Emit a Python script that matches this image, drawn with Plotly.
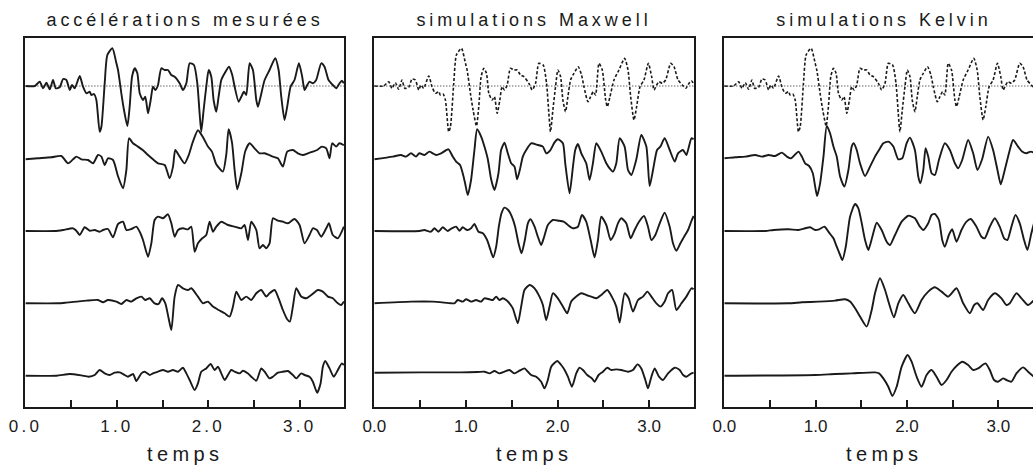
import plotly.graph_objects as go

# ---------------- data: (time, amplitude) pairs ----------------
mes1 = [(0.0,0),(0.102,0),(0.157,4.3),(0.193,-2.3),(0.230,3.3),(0.266,-3.3),(0.302,6),(0.332,-2.3),(0.375,-1.3),(0.412,7),(0.448,6),(0.485,-4),(0.510,1),(0.539,-2.3),(0.594,10),(0.630,-0.7),(0.667,-7.3),(0.703,-5.7),(0.721,-9),(0.750,-8),(0.776,-14),(0.812,-45.7),(0.831,-40.7),(0.867,2.7),(0.896,31),(0.951,37.7),(0.995,22.7),(1.013,16),(1.049,-7.3),(1.078,-24),(1.115,-40),(1.140,-20.7),(1.166,9.3),(1.195,17.7),(1.224,12.7),(1.250,-7.3),(1.286,-14),(1.311,-10.7),(1.341,-27.3),(1.370,-14),(1.395,-0.7),(1.421,-4),(1.450,1),(1.486,17.7),(1.523,16),(1.559,16),(1.596,11),(1.632,9.3),(1.687,2.7),(1.723,-4),(1.760,2.7),(1.796,22.7),(1.843,21),(1.880,2.7),(1.905,-27.3),(1.923,-45.7),(1.949,-24),(1.978,-0.7),(2.004,16),(2.033,9.3),(2.058,-14),(2.087,-25.7),(2.113,-10.7),(2.142,6),(2.179,12.7),(2.226,19.3),(2.262,11),(2.288,-0.7),(2.332,-15.7),(2.361,-10.7),(2.390,-5.7),(2.415,-9),(2.452,22.7),(2.488,16),(2.525,-14),(2.543,-20.7),(2.572,-10.7),(2.616,6),(2.670,16),(2.732,27.7),(2.769,16),(2.798,-10.7),(2.834,-34),(2.863,-20.7),(2.900,-0.7),(2.943,6),(2.991,22.7),(3.027,9.3),(3.053,-4),(3.082,1),(3.107,4.3),(3.144,2.7),(3.180,6),(3.235,22.7),(3.271,19.3),(3.315,6),(3.362,1),(3.399,-2.3),(3.435,2.7),(3.461,5.3),(3.483,2.7)]

mes2 = [(0.0,0),(0.138,1),(0.284,2),(0.393,3.3),(0.466,-4),(0.521,0),(0.557,2.7),(0.612,0),(0.685,-0.7),(0.740,-4),(0.794,4.3),(0.831,2.7),(0.867,-5.7),(0.903,1),(0.958,-0.7),(1.013,-17),(1.067,-29),(1.104,-10.7),(1.133,21),(1.177,16),(1.231,12.7),(1.286,9),(1.341,4.3),(1.395,0),(1.450,-4),(1.523,-5.7),(1.577,-19),(1.614,-7.3),(1.639,9.3),(1.687,2.7),(1.741,-4),(1.785,4),(1.832,17.7),(1.887,29),(1.942,22),(1.996,12.7),(2.040,7.7),(2.087,-5),(2.160,-12.3),(2.197,5),(2.222,30),(2.259,17),(2.288,-10.7),(2.317,-30),(2.361,-14),(2.404,8),(2.452,16),(2.506,11),(2.561,6),(2.616,6),(2.707,2.7),(2.761,1),(2.816,-7.3),(2.863,7.7),(2.925,9.3),(2.980,6),(3.035,4.3),(3.089,6),(3.144,7.7),(3.191,9.3),(3.242,12.7),(3.290,11),(3.326,1),(3.355,16),(3.399,12.7),(3.435,16),(3.483,14)]

mes3 = [(0.0,0),(0.321,0),(0.412,1),(0.521,2.7),(0.557,0.3),(0.594,-4),(0.648,3.7),(0.703,0.3),(0.758,1),(0.812,-0.7),(0.849,1),(0.903,2),(0.958,-6.3),(1.013,7),(1.067,9.3),(1.104,1),(1.158,2),(1.213,4.3),(1.250,-0.7),(1.286,-9),(1.341,-25.7),(1.377,-12.3),(1.413,11),(1.450,14.3),(1.505,12.7),(1.559,16.7),(1.596,7.7),(1.632,-5.7),(1.669,1),(1.723,2.7),(1.778,1.7),(1.814,4.3),(1.851,-20.7),(1.887,-12.3),(1.934,-7.3),(1.978,-4),(2.014,9.3),(2.051,-0.7),(2.087,4.3),(2.142,9.3),(2.215,6),(2.288,4.3),(2.361,2.7),(2.397,6),(2.434,-9),(2.470,9.3),(2.525,1),(2.561,-17.3),(2.598,-14),(2.634,-17.3),(2.670,-12.3),(2.707,12.7),(2.761,10.3),(2.816,9.3),(2.871,7.7),(2.943,12),(2.998,6),(3.053,-12.3),(3.107,-4),(3.144,2.7),(3.188,1),(3.235,-5.7),(3.290,2.7),(3.319,7.7),(3.362,-4),(3.417,-7.3),(3.483,4.3)]

mes4 = [(0.0,0),(0.357,0),(0.448,0.7),(0.557,1.7),(0.667,2.7),(0.794,3.3),(0.849,1),(0.903,3.3),(0.995,1.7),(1.049,-0.7),(1.104,3.3),(1.158,1.7),(1.213,5),(1.268,6.7),(1.311,3.3),(1.359,5),(1.413,0),(1.457,-0.7),(1.494,5),(1.530,0),(1.566,-15),(1.596,-26.7),(1.632,6.7),(1.669,18.3),(1.723,15),(1.778,13.3),(1.814,15),(1.887,6.7),(1.942,0),(1.996,1.7),(2.051,-3.3),(2.113,-6.7),(2.179,-10),(2.233,-13.3),(2.270,-3.3),(2.306,11.7),(2.361,3.3),(2.415,6.7),(2.470,3.3),(2.525,10),(2.579,13.3),(2.634,6.7),(2.670,10),(2.725,13.3),(2.769,5),(2.816,-6.7),(2.863,-16),(2.892,-18.3),(2.925,-3.3),(2.962,15),(3.016,6.7),(3.071,5),(3.126,8.3),(3.199,13.3),(3.253,11.7),(3.308,6.7),(3.362,5),(3.417,0),(3.454,-1.7),(3.483,1.7)]

mes5 = [(0.0,0),(0.339,0),(0.485,1.7),(0.612,0.3),(0.692,-1),(0.758,0.7),(0.812,5.7),(0.867,2.3),(0.922,0.7),(0.976,3),(1.031,3.3),(1.086,0.7),(1.122,-1),(1.177,1.7),(1.213,-5.3),(1.268,2.3),(1.304,4),(1.359,0.7),(1.395,2.3),(1.450,4),(1.505,5.7),(1.559,4),(1.614,5.7),(1.669,4),(1.723,8),(1.760,2.3),(1.796,-4.3),(1.851,-14.3),(1.887,-7.7),(1.923,4),(1.978,7.3),(2.026,11.7),(2.069,5.7),(2.106,9),(2.142,2.3),(2.179,-4.3),(2.215,0.7),(2.251,5.7),(2.288,4),(2.342,2.3),(2.379,5),(2.434,2.3),(2.470,-1),(2.525,-5),(2.579,7.3),(2.616,4),(2.670,-2.7),(2.707,-1),(2.761,3),(2.816,4),(2.871,4.7),(2.925,0.7),(2.962,-2.7),(3.016,2.3),(3.053,0.7),(3.107,-1),(3.144,-6),(3.191,-17),(3.228,-7.7),(3.253,9),(3.279,14.7),(3.326,7.3),(3.373,-1),(3.417,5.7),(3.461,12.3),(3.483,10.7)]

max2 = [(0.0,0),(0.200,2.7),(0.291,4.3),(0.346,2.7),(0.401,6),(0.455,2.7),(0.492,6),(0.546,4.3),(0.601,7.7),(0.638,6),(0.674,4.3),(0.729,6),(0.809,10),(0.856,2.7),(0.893,-2.3),(0.936,-5.7),(0.965,-14),(0.991,-24),(1.020,-35.7),(1.056,-20.7),(1.093,9.3),(1.122,30),(1.166,22.7),(1.202,12.7),(1.239,0),(1.275,-20),(1.311,-30.7),(1.355,-14),(1.384,9.3),(1.421,16.7),(1.457,6),(1.494,-4),(1.530,-7.3),(1.559,-20),(1.588,-10.7),(1.621,2.7),(1.658,9.3),(1.712,16),(1.785,14.3),(1.840,12.7),(1.876,6),(1.920,9),(1.967,17),(2.004,20),(2.058,16),(2.084,-4),(2.131,-34),(2.168,-7.3),(2.193,9.3),(2.222,15.3),(2.259,6),(2.313,-4),(2.350,-20.7),(2.386,-4),(2.423,16),(2.477,7.7),(2.532,-4),(2.568,-9),(2.605,-12.3),(2.641,-4),(2.678,21),(2.732,12.7),(2.769,-10.7),(2.805,-15.7),(2.860,0),(2.914,24.3),(2.969,12.7),(3.005,-26.7),(3.042,-10.7),(3.086,9.3),(3.122,12.7),(3.169,21),(3.224,9.3),(3.279,-2.3),(3.315,6),(3.370,9.3),(3.406,4.3),(3.461,21),(3.485,20)]

max3 = [(0.0,0),(0.492,0),(0.546,1),(0.619,-0.7),(0.656,2.7),(0.699,-0.7),(0.747,3.7),(0.801,0),(0.845,2.7),(0.893,4.3),(0.929,0.3),(0.965,3.7),(1.013,1),(1.056,2.7),(1.093,7),(1.137,-0.7),(1.184,-2.3),(1.231,-9),(1.268,-19),(1.297,-26.3),(1.330,-15.7),(1.359,4.3),(1.388,17.7),(1.421,23.3),(1.461,21),(1.501,14.3),(1.537,4.3),(1.574,-12.3),(1.607,-22.3),(1.643,-9),(1.676,7.7),(1.705,11.7),(1.749,4.3),(1.785,-5.7),(1.821,-14),(1.854,-5.7),(1.894,6),(1.949,11),(2.011,10.3),(2.066,9.3),(2.113,6),(2.168,2.7),(2.222,4.3),(2.266,16),(2.313,9.3),(2.361,-9),(2.404,-26.3),(2.441,-9),(2.477,14.3),(2.532,6),(2.579,-9),(2.623,-2.3),(2.659,7.7),(2.696,12.7),(2.750,7.7),(2.798,-7.3),(2.841,1),(2.889,9.3),(2.944,15),(2.987,4.3),(3.024,-9),(3.067,-4),(3.115,7.7),(3.169,18.3),(3.224,4.3),(3.260,-12.3),(3.297,-19.7),(3.341,-12.3),(3.381,-5.7),(3.424,1),(3.461,10),(3.485,15)]

max4 = [(0.0,0),(0.401,1.7),(0.638,1.7),(0.838,0),(0.874,0),(0.911,3.3),(0.965,1.7),(1.002,4),(1.056,1.7),(1.111,3.3),(1.166,1.7),(1.202,5),(1.257,4),(1.293,3.3),(1.330,6.7),(1.366,3.3),(1.403,5),(1.439,3.3),(1.475,0),(1.512,-5),(1.566,-20),(1.603,-3.3),(1.639,13.3),(1.694,18.3),(1.749,15),(1.803,6.7),(1.840,-1.7),(1.876,-16.7),(1.913,-3.3),(1.949,10),(2.004,5),(2.058,-3.3),(2.106,-10),(2.149,1.7),(2.204,6.7),(2.259,10),(2.313,8.3),(2.368,6.7),(2.423,5),(2.477,8.3),(2.543,13.3),(2.592,6.7),(2.641,-3.3),(2.678,-19.3),(2.732,10),(2.776,5),(2.823,-8.3),(2.878,3.3),(2.933,6.7),(2.980,11.7),(3.024,6.7),(3.078,0),(3.126,-3.3),(3.169,1.7),(3.206,10),(3.250,13.3),(3.297,-6.7),(3.352,0),(3.406,6.7),(3.461,15),(3.485,14)]

max5 = [(0.0,3),(0.510,3.3),(0.947,3.3),(1.129,3.7),(1.202,4),(1.257,2.3),(1.311,4.7),(1.366,2.3),(1.421,4),(1.475,5.7),(1.530,2.3),(1.585,5),(1.639,7.3),(1.676,4),(1.712,0.7),(1.767,-1),(1.821,-6),(1.858,-12.7),(1.894,-4.3),(1.931,9),(1.996,14.7),(2.040,10.7),(2.077,5.7),(2.113,-1),(2.157,-11),(2.204,2.3),(2.240,8),(2.277,5.7),(2.324,0.7),(2.375,-2.7),(2.404,-6),(2.448,0.7),(2.495,4),(2.543,8),(2.587,5.7),(2.641,6.3),(2.696,5.7),(2.769,4),(2.823,5.7),(2.871,11.3),(2.914,7.3),(2.958,-4.3),(2.987,-12.7),(3.024,-1),(3.060,7.3),(3.107,-1),(3.151,-4.3),(3.206,2.3),(3.279,8),(3.333,5.7),(3.370,0.7),(3.406,-1),(3.461,2.3),(3.485,3)]

kel2 = [(0.0,1),(0.120,2),(0.230,2.7),(0.339,4.3),(0.412,2.7),(0.485,4.3),(0.557,3.3),(0.630,6.7),(0.685,2.7),(0.732,1),(0.812,7.7),(0.849,2.7),(0.885,-4),(0.929,-6.7),(0.969,-14),(0.995,-27.3),(1.016,-36.7),(1.049,-24),(1.086,2.7),(1.122,33.3),(1.158,26),(1.195,12.7),(1.231,2.7),(1.268,-17.3),(1.315,-27.3),(1.359,-10.7),(1.395,12.7),(1.417,16),(1.450,9.3),(1.486,-4),(1.541,-16.7),(1.596,-7.3),(1.650,2.7),(1.694,9.3),(1.741,16),(1.796,17.7),(1.851,12.7),(1.905,0),(1.949,1),(1.996,16),(2.033,21.7),(2.087,9.3),(2.124,-17.3),(2.146,-24),(2.179,-10.7),(2.204,11),(2.233,2.7),(2.270,-14),(2.306,-15.7),(2.350,-0.7),(2.415,16),(2.470,9.3),(2.525,-4),(2.561,-9),(2.605,-0.7),(2.670,19.3),(2.725,6),(2.772,-10.7),(2.823,0),(2.889,22.7),(2.943,9.3),(2.991,-10.7),(3.027,-25),(3.071,-10.7),(3.126,9.3),(3.162,19.3),(3.217,12.7),(3.261,7.7),(3.308,6),(3.355,7.7),(3.41,6)]

kel3 = [(0.0,0),(0.448,0),(0.539,1),(0.703,1.7),(0.812,1),(0.885,2.7),(0.940,3.7),(0.995,1),(1.038,1.7),(1.097,4.3),(1.140,-0.7),(1.195,-7.3),(1.231,-15.7),(1.268,-24),(1.293,-29),(1.330,-15.7),(1.377,14.3),(1.432,27),(1.468,22.7),(1.505,7.7),(1.541,-9),(1.577,-19),(1.621,-5.7),(1.669,8.3),(1.723,1),(1.778,-10.7),(1.814,-14),(1.869,-4),(1.942,9.3),(2.015,15.3),(2.087,12.7),(2.142,4.3),(2.179,1),(2.233,7.7),(2.270,16),(2.306,17),(2.350,11),(2.386,-9),(2.415,-15.7),(2.459,-4),(2.495,1.7),(2.543,-10.7),(2.597,1),(2.652,9.3),(2.699,12),(2.761,4.3),(2.816,-5.7),(2.852,-7.3),(2.907,4.3),(2.962,12.7),(3.016,4.3),(3.064,-7.3),(3.100,-9),(3.144,4.3),(3.188,16),(3.235,7.7),(3.282,-9),(3.319,-19),(3.362,-2.3),(3.41,14.3)]

kel4 = [(0.0,0),(0.703,0),(0.849,1),(1.031,1.7),(1.213,2.7),(1.322,4),(1.377,1.7),(1.432,-5),(1.486,-13.3),(1.559,-23.3),(1.614,-6.7),(1.650,10),(1.705,25),(1.760,13.3),(1.803,0),(1.858,-14),(1.905,0),(1.960,8.3),(2.015,0),(2.087,-10),(2.160,3.3),(2.233,11.7),(2.306,16),(2.379,11.7),(2.452,6.7),(2.543,15),(2.616,0),(2.689,-10),(2.736,-1.7),(2.772,0),(2.834,-6.7),(2.889,3.3),(2.962,10),(3.035,5),(3.089,-1.7),(3.126,0),(3.199,10),(3.254,5),(3.326,-1.7),(3.41,5)]

kel5 = [(0.0,0),(0.995,0.7),(1.213,1.7),(1.395,2.3),(1.650,3.3),(1.694,2.3),(1.741,-2.7),(1.796,-11),(1.840,-20.3),(1.887,-11),(1.942,9),(2.007,20.7),(2.051,14),(2.106,-1),(2.160,-11),(2.215,0.7),(2.270,5.7),(2.324,-1),(2.379,-9.3),(2.434,-4.3),(2.488,4),(2.554,10.7),(2.605,14),(2.670,10.7),(2.725,5.7),(2.779,7.3),(2.860,12.3),(2.907,5.7),(2.954,-4.3),(2.998,-6),(3.053,-2.7),(3.089,-4.3),(3.144,-6),(3.199,2.3),(3.272,8.3),(3.326,4),(3.41,-2.7)]

panel_titles = ["accélérations mesurées", "simulations Maxwell", "simulations Kelvin"]
x_title = "temps"
tick_values = [0, 0.5, 1.0, 1.5, 2.0, 2.5, 3.0, 3.5]
tick_labels = ["0.0", "", "1.0", "", "2.0", "", "3.0", ""]

panels = [
    [mes1, mes2, mes3, mes4, mes5],
    [mes1, max2, max3, max4, max5],
    [mes1, kel2, kel3, kel4, kel5],
]

# ---------------- layout constants ----------------
W, H = 1033, 468
# horizontal correction between page pixels and the photographed picture
SHIFT, SCALE = 11.0, 0.987
def px(x_img):
    return (x_img - SHIFT) / SCALE / W

row_offsets = [289.7, 216.4, 144.7, 72.4, 0.0]   # vertical position of each record
y_range = [-31.3, 337.7]
x_domains = [[px(24.4), px(342.7)], [px(372.8), px(692.3)], [px(722.3), 1.0]]
right_w_img = (W * SCALE + SHIFT) - 722.3
x_ranges = [[0, 3.486], [0, 3.492], [0, min(3.49, right_w_img / 91.2)]]
title_x = [px(183.5), px(532.5), px(882.0)]
y_domain = [61 / H, 430 / H]
ink = "#1a1a1a"
font_family = "Arial, 'Liberation Sans', sans-serif"

fig = go.Figure()
for p, records in enumerate(panels):
    xa = "x" if p == 0 else f"x{p + 1}"
    ya = "y" if p == 0 else f"y{p + 1}"
    for r, rec in enumerate(records):
        ts = [v[0] for v in rec]
        amps = [v[1] + row_offsets[r] for v in rec]
        dotted = (p > 0 and r == 0)
        fig.add_trace(go.Scatter(
            x=ts, y=amps, mode="lines", xaxis=xa, yaxis=ya, showlegend=False,
            hoverinfo="skip",
            line=dict(color=ink, width=1.6 if dotted else 1.9,
                      dash="3px,2px" if dotted else "solid",
                      shape="spline", smoothing=0.6),
        ))
    # dotted zero line of the top record
    fig.add_shape(type="line", xref=f"{xa} domain", yref=ya, x0=0, x1=1,
                  y0=row_offsets[0], y1=row_offsets[0],
                  line=dict(color=ink, width=1, dash="1px,2px"), layer="below")

layout = dict(
    width=W, height=H, margin=dict(l=0, r=0, t=0, b=0),
    paper_bgcolor="white", plot_bgcolor="white",
    font=dict(family=font_family, color=ink),
    showlegend=False,
)
for p in range(3):
    xk = "xaxis" if p == 0 else f"xaxis{p + 1}"
    yk = "yaxis" if p == 0 else f"yaxis{p + 1}"
    ya = "y" if p == 0 else f"y{p + 1}"
    xa = "x" if p == 0 else f"x{p + 1}"
    layout[xk] = dict(
        domain=x_domains[p], range=x_ranges[p], anchor=ya,
        showline=True, linecolor=ink, linewidth=2, mirror=True,
        showgrid=False, zeroline=False,
        tickmode="array", tickvals=tick_values, ticktext=tick_labels,
        ticks="inside", ticklen=7, tickwidth=2, tickcolor=ink,
        tickfont=dict(size=17, family=font_family, color=ink),
        ticklabelstandoff=3,
    )
    layout[yk] = dict(
        domain=y_domain, range=y_range, anchor=xa,
        showline=True, linecolor=ink, linewidth=2, mirror=(p < 2),
        showgrid=False, zeroline=False, showticklabels=False, ticks="",
    )
fig.update_layout(**layout)

for p in range(3):
    fig.add_annotation(text=panel_titles[p], xref="paper", yref="paper",
                       x=title_x[p], y=(H - 20) / H, showarrow=False,
                       xanchor="center", yanchor="middle",
                       font=dict(size=18, family=font_family, color=ink))
    fig.add_annotation(text=x_title, xref="paper", yref="paper",
                       x=title_x[p], y=(H - 454) / H, showarrow=False,
                       xanchor="center", yanchor="middle",
                       font=dict(size=20, family=font_family, color=ink))

page_js = """
document.documentElement.style.margin = '0';
document.documentElement.style.padding = '0';
document.documentElement.style.overflow = 'hidden';
document.body.style.margin = '0';
document.body.style.padding = '0';
document.body.style.overflow = 'hidden';
var gd = document.getElementById('{plot_id}');
function spaceText(){
  gd.querySelectorAll('.annotation-text').forEach(function(e){ e.style.letterSpacing = '0.22em'; });
  gd.querySelectorAll('.xtick text').forEach(function(e){ e.style.letterSpacing = '0.19em'; });
}
spaceText();
gd.on('plotly_afterplot', spaceText);
"""

fig.write_html("out.html", post_script=page_js,
               config={"displayModeBar": False, "staticPlot": True})
